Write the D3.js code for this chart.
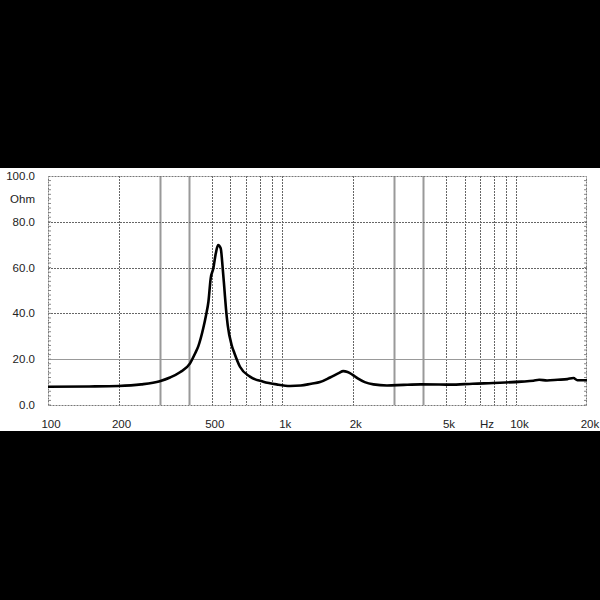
<!DOCTYPE html>
<html><head><meta charset="utf-8">
<script src="https://cdn.jsdelivr.net/npm/d3@7"></script>
<style>html,body{margin:0;padding:0;background:#000;}svg{display:block;}</style>
</head><body>
<script>
const freqs = [100,150,200,250,300,332,366,404,425,438,460,473,484,495,508,520,532,546,557,566,575,585,608,625,660,728,830,946,1080,1200,1330,1450,1600,1750,1820,1900,1990,2100,2250,2450,2800,3300,3900,5200,6500,8500,10500,11800,12500,13500,15000,16500,17500,18200,20000];
const ohms  = [8.0,8.1,8.3,9.0,10.4,12.0,14.3,18.2,22.6,25.6,33.5,39.3,45.1,55.3,59.7,66.0,69.8,68.4,59.7,51.0,42.2,34.9,26.2,22.6,16.7,12.4,10.2,9.0,8.3,8.5,9.3,10.0,12.0,14.0,14.8,14.4,13.3,11.6,10.0,9.0,8.5,8.8,9.0,8.9,9.3,9.7,10.2,10.6,11.0,10.7,11.0,11.3,11.8,10.8,10.8];
const yTicks = [0,20,40,60,80,100];
const yTickLabels = ["0.0","20.0","40.0","60.0","80.0","100.0"];
const xLabelVals = [100,200,500,1000,2000,5000,10000,20000];
const xLabelText = ["100","200","500","1k","2k","5k","10k","20k"];
const vGrid = [200,300,400,500,600,700,800,900,1000,2000,3000,4000,5000,6000,7000,8000,9000,10000];
const vGridHeavy = [300,400,3000,4000];
const unitX = "Hz", unitY = "Ohm";

const W=600,H=600;
const svg=d3.select("body").append("svg").attr("width",W).attr("height",H);
svg.append("rect").attr("width",W).attr("height",H).attr("fill","#000");
svg.append("rect").attr("x",0).attr("y",168).attr("width",W).attr("height",263).attr("fill","#fff");

const x=d3.scaleLog().domain([100,20000]).range([48,587]);
const y=d3.scaleLinear().domain([0,100]).range([405,176]);

const g=svg.append("g");
g.selectAll(".vg").data(vGrid).enter().append("line")
 .attr("x1",d=>Math.round(x(d))+0.5).attr("x2",d=>Math.round(x(d))+0.5)
 .attr("y1",y(100)).attr("y2",y(0))
 .attr("stroke",d=>vGridHeavy.includes(d)?"#999":"#666")
 .attr("stroke-width",d=>vGridHeavy.includes(d)?2:1)
 .attr("stroke-dasharray",d=>vGridHeavy.includes(d)?null:"2,1");
g.selectAll(".hg").data(yTicks.filter(d=>d>0&&d<100)).enter().append("line")
 .attr("x1",x(100)).attr("x2",x(20000))
 .attr("y1",d=>Math.round(y(d))+0.5).attr("y2",d=>Math.round(y(d))+0.5)
 .attr("stroke",d=>d===20?"#999":"#666").attr("stroke-width",1)
 .attr("stroke-dasharray",d=>d===20?null:"2,1");
const minor=d3.range(0,100,2);
g.selectAll(".ml").data(minor).enter().append("line")
 .attr("x1",x(100)).attr("x2",x(100)+3).attr("y1",d=>y(d)).attr("y2",d=>y(d)).attr("stroke","#888");
g.selectAll(".mr").data(minor).enter().append("line")
 .attr("x1",x(20000)-3).attr("x2",x(20000)).attr("y1",d=>y(d)).attr("y2",d=>y(d)).attr("stroke","#888");
g.append("rect").attr("x",x(100)+0.5).attr("y",y(100)+0.5)
 .attr("width",x(20000)-x(100)-1).attr("height",y(0)-y(100))
 .attr("fill","none").attr("stroke","#777").attr("stroke-dasharray","2,1");

const data=freqs.map((f,i)=>({f,o:ohms[i]}));
const line=d3.line().x(d=>x(d.f)).y(d=>y(d.o)).curve(d3.curveMonotoneX);
svg.append("path").datum(data).attr("d",line).attr("fill","none")
 .attr("stroke","#000").attr("stroke-width",2.6).attr("stroke-linejoin","round");

const font="Liberation Sans, Arial, sans-serif";
svg.selectAll(".yl").data(yTicks).enter().append("text")
 .attr("x",35).attr("y",d=>y(d)).attr("dy","0.35em").attr("text-anchor","end")
 .attr("font-family",font).attr("font-size",11.5).attr("fill","#222")
 .text((d,i)=>yTickLabels[i]);
svg.append("text").attr("x",35).attr("y",199).attr("dy","0.35em").attr("text-anchor","end")
 .attr("font-family",font).attr("font-size",11.5).attr("fill","#222").text(unitY);
svg.selectAll(".xl").data(xLabelVals).enter().append("text")
 .attr("x",d=>x(d)+3).attr("y",424).attr("dy","0.35em").attr("text-anchor","middle")
 .attr("font-family",font).attr("font-size",11.5).attr("fill","#222")
 .text((d,i)=>xLabelText[i]);
svg.append("text").attr("x",487).attr("y",424).attr("dy","0.35em").attr("text-anchor","middle")
 .attr("font-family",font).attr("font-size",11.5).attr("fill","#222").text(unitX);
</script>
</body></html>
